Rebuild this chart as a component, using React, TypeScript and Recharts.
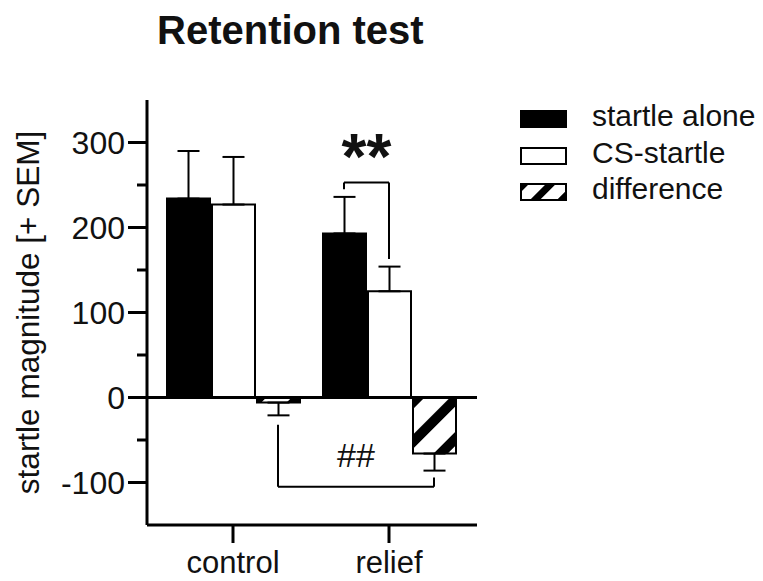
import React from "react";
import { BarChart, Bar, XAxis, YAxis, ErrorBar, ReferenceLine, Legend } from "recharts";

// values (startle magnitude, + SEM)
const CATEGORIES = ["control", "relief"];
const STARTLE_ALONE = [234, 193];
const STARTLE_ALONE_SEM = [56, 43];
const CS_STARTLE = [227, 125];
const CS_STARTLE_SEM = [56, 29];
const DIFFERENCE = [-6, -66];
const DIFFERENCE_SEM = [15, 20];

const Y_TICKS = [-100, -50, 0, 50, 100, 150, 200, 250, 300];
const Y_LABELED = [-100, 0, 100, 200, 300];

const SERIES = [
  { key: "alone", name: "startle alone", fill: "#000", legendFill: "#000" },
  { key: "cs", name: "CS-startle", fill: "#fff", legendFill: "#fff" },
  { key: "diff", name: "difference", fill: "url(#hatch)", legendFill: "url(#hatch-small)" },
];

// significance brackets: [category, series index] for each leg, y levels in data units
const BRACKETS = [
  { from: ["relief", 0], to: ["relief", 1], level: 253, ends: [245, 163], text: "**", textY: 293 },
  { from: ["control", 2], to: ["relief", 2], level: -105, ends: [-32, -94], text: "##", textY: -68 },
];

const data = CATEGORIES.map((name, i) => ({
  name,
  alone: STARTLE_ALONE[i],
  aloneErr: [0, STARTLE_ALONE_SEM[i]],
  cs: CS_STARTLE[i],
  csErr: [0, CS_STARTLE_SEM[i]],
  diff: DIFFERENCE[i],
  diffErr: [DIFFERENCE_SEM[i], 0],
}));

const W = 755;
const H = 573;
const MARGIN = { top: 92, right: 286, bottom: 0, left: 0 };
const Y_AXIS_W = 139;
const X_PAD = { left: 8, right: 10 };
const BAR_SIZE = 43;
const BAR_GAP = 2;
const Y_TICK_SIZE = 19;
const Y_TICK_MARGIN = 3;
const MINOR_LEN = 10;
const FONT = "'Liberation Sans', Arial, Helvetica, sans-serif";
const INK = "#111";

// pixel shift of a bar's centre from its category centre
const barShift = (series: number) => (series - 1) * (BAR_SIZE + BAR_GAP);

const YTick = ({ x, y, payload }: any) => {
  const major = Y_LABELED.includes(payload.value);
  const outer = x + Y_TICK_MARGIN;
  return (
    <g>
      <line
        x1={major ? outer : outer + Y_TICK_SIZE - MINOR_LEN}
        x2={outer + Y_TICK_SIZE}
        y1={y}
        y2={y}
        stroke="#000"
        strokeWidth={3}
      />
      {major && (
        <text x={x} y={y} dy="0.36em" textAnchor="end" fontSize={32} fill={INK}>
          {payload.value}
        </text>
      )}
    </g>
  );
};

const renderLegend = () => (
  <div style={{ fontFamily: FONT, fontSize: 30, color: INK }}>
    {SERIES.map((s) => (
      <div key={s.key} style={{ position: "relative", height: 36.5, lineHeight: "36.5px" }}>
        <svg width={47} height={18} style={{ position: "absolute", left: 0, top: 12 }}>
          <rect x={1} y={1} width={45} height={16} fill={s.legendFill} stroke="#000" strokeWidth={2} />
        </svg>
        <span style={{ position: "absolute", left: 72, top: 0, whiteSpace: "nowrap" }}>{s.name}</span>
      </div>
    ))}
  </div>
);

const YLabel = ({ viewBox }: any) => {
  const cx = 31;
  const cy = viewBox.y + viewBox.height / 2;
  return (
    <text x={cx} y={cy} transform={`rotate(-90, ${cx}, ${cy})`} textAnchor="middle" fontSize={31.5} fill={INK}>
      startle magnitude [+ SEM]
    </text>
  );
};

const shiftedLine = (dx1: number, dx2: number) => (p: any) => (
  <line x1={p.x1 + dx1} y1={p.y1} x2={p.x2 + dx2} y2={p.y2} stroke="#000" strokeWidth={2} />
);

const shiftedText = (dx1: number, dx2: number, text: string) => (p: any) => {
  const x = (p.x1 + dx1 + p.x2 + dx2) / 2;
  return text === "**" ? (
    <text x={x} y={p.y1 + 31} textAnchor="middle" fontSize={64} fontWeight={700} fill={INK}>
      {text}
    </text>
  ) : (
    <text x={x} y={p.y1 + 12} textAnchor="middle" fontSize={34} fill={INK}>
      {text}
    </text>
  );
};

export default function App() {
  return (
    <div style={{ position: "relative", width: W, height: H, fontFamily: FONT }}>
      <svg width={0} height={0} style={{ position: "absolute" }}>
        <defs>
          <pattern id="hatch" patternUnits="userSpaceOnUse" width={28} height={28} patternTransform="rotate(45)">
            <rect width={28} height={28} fill="#fff" />
            <rect x={0} y={0} width={10} height={28} fill="#000" />
          </pattern>
          <pattern id="hatch-small" patternUnits="userSpaceOnUse" width={19} height={19} patternTransform="rotate(45)">
            <rect width={19} height={19} fill="#fff" />
            <rect x={0} y={0} width={7} height={19} fill="#000" />
          </pattern>
        </defs>
      </svg>
      <div
        style={{
          position: "absolute",
          left: 149,
          top: 2,
          fontSize: 40,
          lineHeight: 1,
          fontWeight: 700,
          color: INK,
          whiteSpace: "nowrap",
        }}
      >
        Retention test
      </div>
      <BarChart width={W} height={H} data={data} margin={MARGIN} barGap={BAR_GAP}>
        <XAxis
          dataKey="name"
          padding={X_PAD}
          height={56}
          tickSize={18}
          tickMargin={8}
          tick={{ fontSize: 31, fill: INK }}
          tickLine={{ stroke: "#000", strokeWidth: 3 }}
          axisLine={{ stroke: "#000", strokeWidth: 3 }}
        />
        <YAxis
          type="number"
          domain={[-150, 350]}
          ticks={Y_TICKS}
          interval={0}
          width={Y_AXIS_W}
          tickSize={Y_TICK_SIZE}
          tickMargin={Y_TICK_MARGIN}
          tickLine={false}
          tick={<YTick />}
          axisLine={{ stroke: "#000", strokeWidth: 3 }}
          label={{ content: <YLabel /> }}
        />
        <Legend
          layout="vertical"
          align="center"
          verticalAlign="middle"
          wrapperStyle={{ left: 512, top: 90, width: 243, height: 110 }}
          content={renderLegend}
        />
        {SERIES.map((s) => (
          <Bar
            key={s.key}
            dataKey={s.key}
            name={s.name}
            fill={s.fill}
            stroke="#000"
            strokeWidth={2}
            barSize={BAR_SIZE}
            isAnimationActive={false}
          >
            <ErrorBar dataKey={`${s.key}Err`} width={11} stroke="#000" strokeWidth={2} direction="y" />
          </Bar>
        ))}
        <ReferenceLine y={0} stroke="#000" strokeWidth={3} />
        {BRACKETS.flatMap((b, i) => {
          const [ca, sa] = b.from as [string, number];
          const [cb, sb] = b.to as [string, number];
          const da = barShift(sa);
          const db = barShift(sb);
          return [
            <ReferenceLine key={`a${i}`} segment={[{ x: ca, y: b.ends[0] }, { x: ca, y: b.level }]} shape={shiftedLine(da, da)} />,
            <ReferenceLine key={`m${i}`} segment={[{ x: ca, y: b.level }, { x: cb, y: b.level }]} shape={shiftedLine(da, db)} />,
            <ReferenceLine key={`b${i}`} segment={[{ x: cb, y: b.level }, { x: cb, y: b.ends[1] }]} shape={shiftedLine(db, db)} />,
            <ReferenceLine key={`t${i}`} segment={[{ x: ca, y: b.textY }, { x: cb, y: b.textY }]} shape={shiftedText(da, db, b.text)} />,
          ];
        })}
      </BarChart>
    </div>
  );
}
